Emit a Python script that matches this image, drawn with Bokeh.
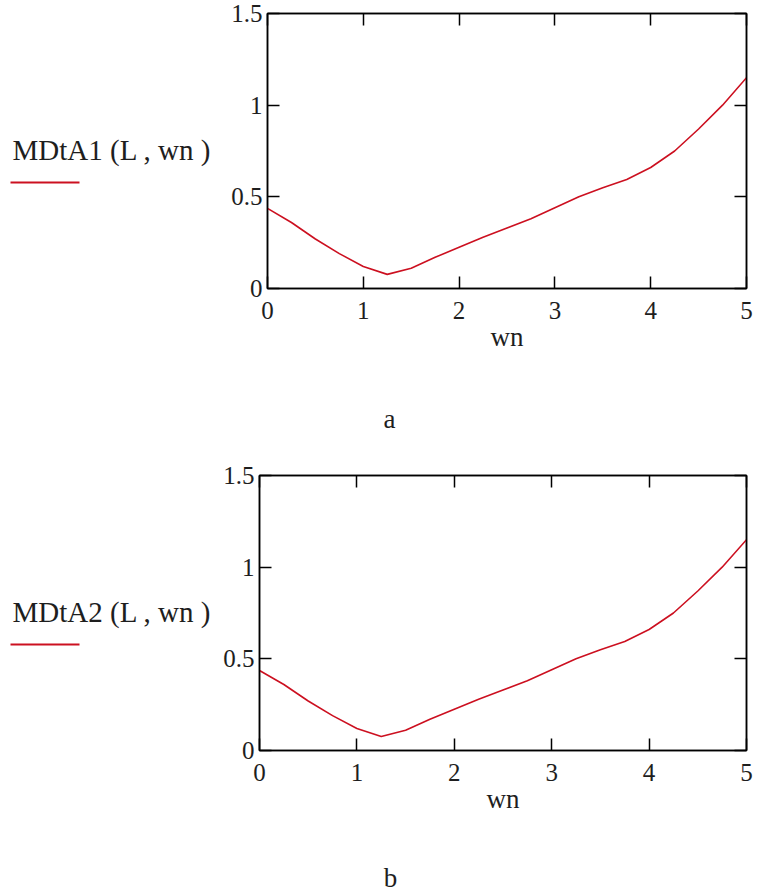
from bokeh.plotting import figure
from bokeh.models import LinearAxis, Range1d, Label, BoxAnnotation, FixedTicker
from bokeh.layouts import column, row
from bokeh.embed import file_html
from bokeh.resources import INLINE

# ---- data ----
wn = [0, 0.25, 0.5, 0.75, 1.0, 1.25, 1.5, 1.75, 2.0, 2.25, 2.5, 2.75,
      3.0, 3.25, 3.5, 3.75, 4.0, 4.25, 4.5, 4.75, 5.0]
mdta1 = [0.437, 0.36, 0.27, 0.19, 0.12, 0.077, 0.11, 0.17, 0.225, 0.28, 0.33, 0.38,
         0.44, 0.50, 0.55, 0.595, 0.66, 0.75, 0.87, 1.00, 1.15]
mdta2 = [0.436, 0.36, 0.27, 0.19, 0.12, 0.076, 0.11, 0.17, 0.225, 0.28, 0.33, 0.38,
         0.44, 0.50, 0.55, 0.595, 0.66, 0.75, 0.87, 1.00, 1.15]
x_ticks = [0, 1, 2, 3, 4, 5]
x_tick_labels = ["0", "1", "2", "3", "4", "5"]
y_ticks = [0, 0.5, 1, 1.5]
y_tick_labels = ["0", "0.5", "1", "1.5"]
legend_names = ["MDtA1 (L , wn )", "MDtA2 (L , wn )"]
x_title = "wn"
captions = ["a", "b"]

FONT = "Liberation Serif"
RED = "#cc1020"
INK = "#1e1e1e"


def make_main(ys, left, top, fw, height):
    p = figure(frame_width=fw, frame_height=275,
               min_border_left=left, min_border_right=12,
               min_border_top=top, min_border_bottom=height - top - 275,
               x_range=Range1d(0, 5), y_range=Range1d(0, 1.5),
               output_backend="svg", toolbar_location=None,
               x_axis_location=None, y_axis_location=None)
    p.grid.visible = False
    p.outline_line_color = "black"
    p.outline_line_width = 1.5
    p.background_fill_color = "white"
    p.border_fill_color = "white"

    xt = dict(zip([float(t) for t in x_ticks], x_tick_labels))
    yt = dict(zip([float(t) for t in y_ticks], y_tick_labels))

    def style(ax, ticks, overrides, show_labels):
        ax.ticker = FixedTicker(ticks=ticks, minor_ticks=[])
        ax.major_label_overrides = overrides
        ax.axis_line_color = "black"
        ax.axis_line_width = 1.5
        ax.major_tick_line_color = "black"
        ax.major_tick_line_width = 1.5
        ax.major_tick_in = 12
        ax.major_tick_out = 0
        ax.minor_tick_line_color = None
        ax.major_label_text_font = FONT
        ax.major_label_text_color = INK
        if show_labels:
            ax.major_label_text_font_size = "25px"
        else:
            ax.major_label_text_font_size = "0px"
            ax.major_label_standoff = 0

    bottom_ax = LinearAxis(axis_label=x_title)
    style(bottom_ax, x_ticks, xt, True)
    bottom_ax.major_label_text_align = "left"
    bottom_ax.major_label_standoff = 13
    bottom_ax.axis_label_text_font = FONT
    bottom_ax.axis_label_text_font_style = "normal"
    bottom_ax.axis_label_text_font_size = "27px"
    bottom_ax.axis_label_text_color = INK
    bottom_ax.axis_label_standoff = 0
    p.add_layout(bottom_ax, "below")

    left_ax = LinearAxis()
    style(left_ax, y_ticks, yt, True)
    left_ax.major_label_standoff = 5
    p.add_layout(left_ax, "left")

    top_ax = LinearAxis()
    style(top_ax, x_ticks, {float(t): "" for t in x_ticks}, False)
    p.add_layout(top_ax, "above")

    right_ax = LinearAxis()
    style(right_ax, y_ticks, {float(t): "" for t in y_ticks}, False)
    p.add_layout(right_ax, "right")

    p.line(wn, ys, line_color=RED, line_width=1.6)
    return p


def blank(width, height):
    s = figure(width=width, height=height, min_border=0,
               x_range=Range1d(0, width), y_range=Range1d(0, height),
               output_backend="svg", toolbar_location=None,
               x_axis_location=None, y_axis_location=None)
    s.grid.visible = False
    s.outline_line_color = None
    s.background_fill_color = "white"
    s.border_fill_color = "white"
    return s


def make_side(name, width, height):
    # the row aligns this figure's frame with the main plot frame,
    # so screen units below are measured from the main frame's bottom edge
    s = blank(width, height)
    s.add_layout(Label(x=12, y=139, x_units="screen", y_units="screen",
                       text=name, text_font=FONT, text_font_size="29px",
                       text_color=INK, text_baseline="alphabetic"))
    s.add_layout(BoxAnnotation(left=10, right=79, bottom=105, top=107,
                               left_units="screen", right_units="screen",
                               bottom_units="screen", top_units="screen",
                               fill_color=RED, fill_alpha=1.0, line_color=None))
    return s


def make_caption(text, height, cx, y):
    c = blank(758, height)
    c.add_layout(Label(x=cx, y=y, x_units="screen", y_units="screen",
                       text=text, text_font=FONT, text_font_size="27px",
                       text_color=INK, text_align="center", text_baseline="alphabetic"))
    return c


# page rows: plot a 0-380, caption a 380-460, plot b 460-842, caption b 842-892
side1 = make_side(legend_names[0], 225, 380)
main1 = make_main(mdta1, left=42, top=13, fw=479, height=380)
cap1 = make_caption(captions[0], 80, 389, 42)
side2 = make_side(legend_names[1], 217, 382)
main2 = make_main(mdta2, left=42, top=15, fw=487, height=382)
cap2 = make_caption(captions[1], 50, 390, 15)

layout = column(row(side1, main1, spacing=0), cap1,
                row(side2, main2, spacing=0), cap2, spacing=0)
open("out.html", "w").write(file_html(layout, INLINE))
